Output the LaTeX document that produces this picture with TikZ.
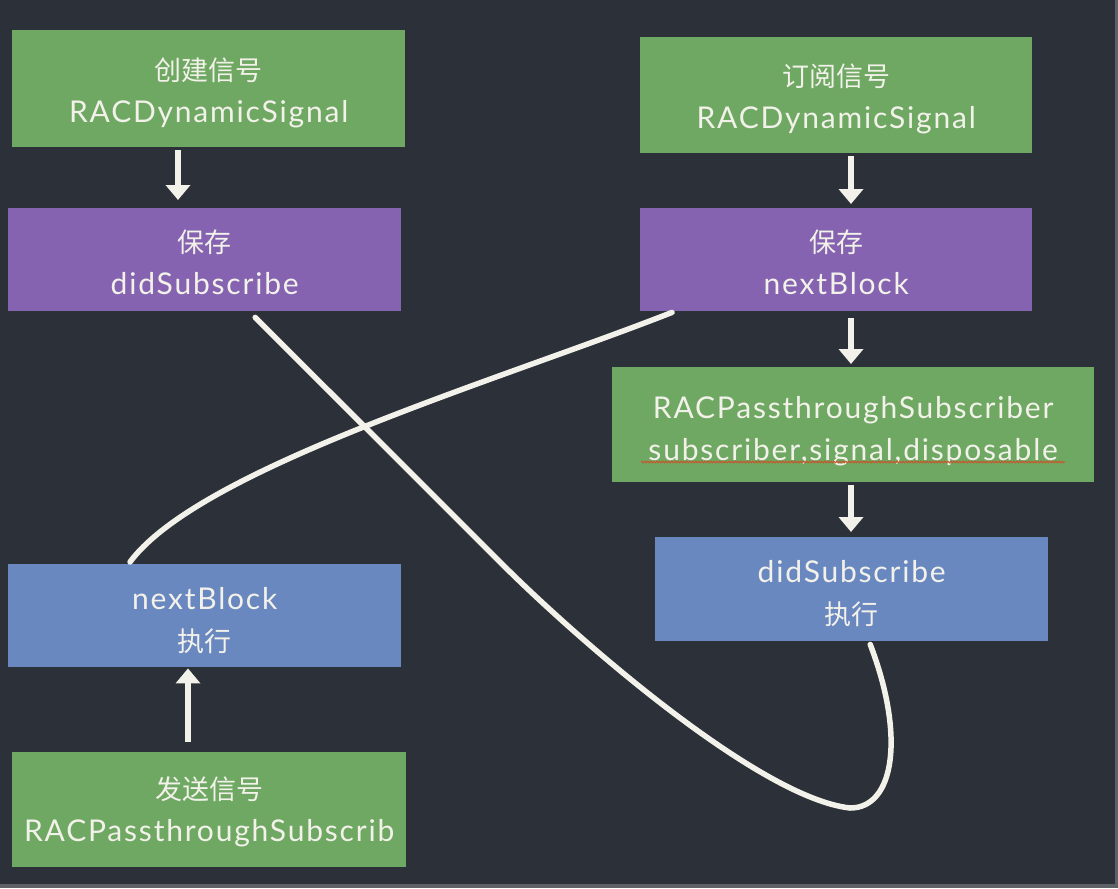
\documentclass[tikz,border=0pt]{standalone}
\usepackage{fontspec}
\setmainfont{Lato}[LetterSpace=6]
\newfontfamily\cjk{Noto Sans CJK SC}
\usetikzlibrary{arrows.meta,calc,decorations.pathmorphing}
\definecolor{board}{HTML}{2C3038}
\definecolor{boardedge}{HTML}{5E6166}
\definecolor{gbox}{HTML}{6FA862}
\definecolor{pbox}{HTML}{8563B0}
\definecolor{bbox}{HTML}{6A88C0}
\definecolor{chalk}{HTML}{F2F1EA}
\definecolor{squiggle}{HTML}{C4572C}
\begin{document}
\begin{tikzpicture}[x=1pt,y=-1pt,
  card/.style={anchor=north west, inner sep=0pt, align=center, text=chalk,
    font=\fontsize{30}{42}\selectfont},
  greencard/.style={card, fill=gbox},
  purplecard/.style={card, fill=pbox},
  bluecard/.style={card, fill=bbox},
  chalkarrow/.style={draw=chalk, line width=5.5pt, -{Triangle[width=24pt,length=15pt]}},
  chalkline/.style={draw=chalk, line width=5.5pt, line cap=round},
]
\newcommand{\zhtext}[1]{{\cjk\fontsize{27}{42}\selectfont #1}}
\newcommand{\toppad}{\rule{0pt}{31pt}}
% background
\fill[board] (0,0) rectangle (1118,888);
\fill[boardedge] (0,884) rectangle (1118,888);
\fill[boardedge] (1115,0) rectangle (1118,888);
\useasboundingbox (0,0) rectangle (1118,888);

% cards
\node[greencard, minimum width=393pt, minimum height=117pt] (A) at (12,30)
  {\toppad\zhtext{创建信号}\\RACDynamicSignal};
\node[purplecard, minimum width=393pt, minimum height=103pt] (B) at (8,208)
  {\rule{0pt}{27pt}\zhtext{保存}\\didSubscribe};
\node[greencard, minimum width=392pt, minimum height=116pt] (C) at (640,37)
  {\toppad\zhtext{订阅信号}\\RACDynamicSignal};
\node[purplecard, minimum width=392pt, minimum height=103pt] (D) at (640,208)
  {\rule{0pt}{27pt}\zhtext{保存}\\nextBlock};
\node[greencard, minimum width=482pt, minimum height=115pt] (E) at (612,367)
  {\rule{0pt}{36pt}RACPassthroughSubscriber\\subscriber,signal,disposable};
\node[bluecard, minimum width=393pt, minimum height=104pt] (F) at (655,537)
  {\toppad didSubscribe\\\zhtext{执行}};
\node[bluecard, minimum width=393pt, minimum height=103pt] (G) at (8,564)
  {\toppad nextBlock\\\zhtext{执行}};
\node[greencard, minimum width=394pt, minimum height=115pt] (H) at (12,752)
  {\rule{0pt}{28pt}\zhtext{发送信号}\\RACPassthroughSubscrib};

% spelling squiggle under second line of E
\coordinate (sqL) at ($(E.north west)+(29,95)$);
\coordinate (sqR) at ($(E.north west)+(453,95)$);
\draw[squiggle, line width=1pt, decorate, decoration={snake, amplitude=0.8pt, segment length=3pt}] (sqL) -- (sqR);

% straight chalk arrows
\draw[chalkarrow] ($(A.south -| 178,0)+(0,3)$) -- ($(B.north -| 178,0)+(0,-8)$);
\draw[chalkarrow] ($(C.south -| 851,0)+(0,3)$) -- ($(D.north -| 851,0)+(0,-4)$);
\draw[chalkarrow] ($(D.south -| 851,0)+(0,7)$) -- ($(E.north -| 851,0)+(0,-3)$);
\draw[chalkarrow] ($(E.south -| 851,0)+(0,3)$) -- ($(F.north -| 851,0)+(0,-5)$);
\draw[chalkarrow] ($(H.north -| 188,0)+(0,-10)$) -- ($(G.south -| 188,0)+(0,1)$);

% chalk curves
\coordinate (c1s) at ($(B.south)+(50.5,6)$);
\coordinate (c1m) at (500,562);
\coordinate (c1b) at (850,808);
\coordinate (c1e) at ($(F.south)+(18.5,3)$);
\draw[chalkline] (c1s) -- (c1m) .. controls (580,642) and (760,798) .. (c1b)
  .. controls (895,808) and (905,735) .. (c1e);

\coordinate (c2s) at ($(D.south west)+(32,1)$);
\coordinate (c2e) at ($(G.north west)+(122,-2)$);
\draw[chalkline] (c2s) .. controls (500,380) and (200,468) .. (c2e);
\end{tikzpicture}
\end{document}
